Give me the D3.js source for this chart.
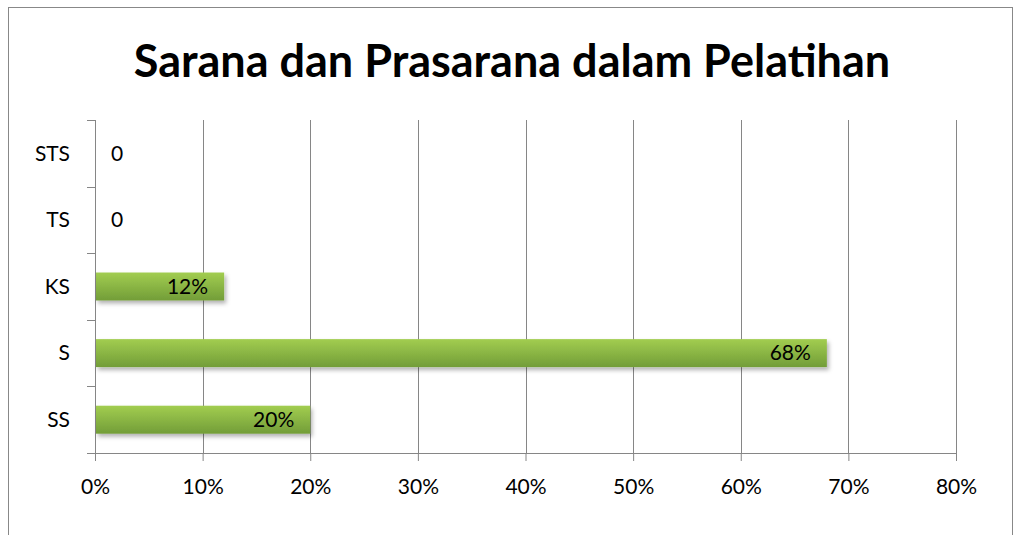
<!DOCTYPE html>
<html>
<head>
<meta charset="utf-8">
<script src="https://cdn.jsdelivr.net/npm/d3@7"></script>
<style>
  body { margin: 0; background: #fff; }
  text { font-family: Lato, "Open Sans", sans-serif; }
</style>
</head>
<body>
<div id="chart"></div>
<script>
// chart data
var categories = ["STS", "TS", "KS", "S", "SS"];
var values = [0, 0, 0.12, 0.68, 0.20];
var valueLabels = ["0", "0", "12%", "68%", "20%"];
var xTicks = [0, 0.1, 0.2, 0.3, 0.4, 0.5, 0.6, 0.7, 0.8];
var title = "Sarana dan Prasarana dalam Pelatihan";

var width = 1015, height = 535;
var margin = { top: 120, right: 59, bottom: 82, left: 95 };
var plotW = width - margin.left - margin.right;
var plotH = height - margin.top - margin.bottom;

var svg = d3.select("#chart").append("svg")
  .attr("width", width)
  .attr("height", height);

var defs = svg.append("defs");
var grad = defs.append("linearGradient")
  .attr("id", "barGrad")
  .attr("x1", 0).attr("y1", 0).attr("x2", 0).attr("y2", 1);
grad.append("stop").attr("offset", "0%").attr("stop-color", "#a2cd50");
grad.append("stop").attr("offset", "100%").attr("stop-color", "#729d38");

var shadow = defs.append("filter").attr("id", "shadow")
  .attr("x", "-5%").attr("y", "-20%").attr("width", "115%").attr("height", "160%");
shadow.append("feDropShadow")
  .attr("dx", 2).attr("dy", 3).attr("stdDeviation", 2)
  .attr("flood-color", "#000").attr("flood-opacity", 0.3);

// outer border
svg.append("rect")
  .attr("x", 8.5).attr("y", 7.5)
  .attr("width", 1004).attr("height", 540)
  .attr("fill", "none").attr("stroke", "#888").attr("stroke-width", 1);

svg.append("text")
  .attr("x", 512).attr("y", 77)
  .attr("text-anchor", "middle")
  .style("font-size", "45px")
  .style("font-weight", "bold")
  .attr("fill", "#000")
  .text(title);

var g = svg.append("g")
  .attr("transform", "translate(" + margin.left + "," + margin.top + ")");

var x = d3.scaleLinear().domain([0, 0.8]).range([0, plotW]);
var y = d3.scaleBand().domain(categories).range([0, plotH]).paddingInner(0.58).paddingOuter(0.29);

// vertical gridlines
g.selectAll(".grid").data(xTicks.slice(1)).enter().append("line")
  .attr("class", "grid")
  .attr("x1", function (d) { return Math.round(x(d)) + 0.5; })
  .attr("x2", function (d) { return Math.round(x(d)) + 0.5; })
  .attr("y1", 0).attr("y2", plotH)
  .attr("stroke", "#868686");

// x axis
var xAxis = g.append("g")
  .attr("transform", "translate(0," + plotH + ")")
  .call(d3.axisBottom(x).tickValues(xTicks).tickFormat(d3.format(".0%")).tickSize(8).tickSizeOuter(0).tickPadding(18));
xAxis.select(".domain").attr("stroke", "#868686");
xAxis.selectAll(".tick line").attr("stroke", "#868686");
xAxis.selectAll("text").style("font-size", "21px").attr("fill", "#000")
  .style("font-family", "Lato, 'Open Sans', sans-serif");

// y axis with ticks at band boundaries
var yAxisG = g.append("g");
yAxisG.append("line")
  .attr("x1", 0.5).attr("x2", 0.5).attr("y1", 0).attr("y2", plotH + 8)
  .attr("stroke", "#868686");
var step = plotH / categories.length;
yAxisG.selectAll(".ytick").data(d3.range(categories.length + 1)).enter().append("line")
  .attr("x1", -8).attr("x2", 0)
  .attr("y1", function (d) { return Math.round(d * step) + 0.5; })
  .attr("y2", function (d) { return Math.round(d * step) + 0.5; })
  .attr("stroke", "#868686");
yAxisG.selectAll(".ylab").data(categories).enter().append("text")
  .attr("x", -25)
  .attr("y", function (d) { return y(d) + y.bandwidth() / 2; })
  .attr("dy", "0.35em")
  .attr("text-anchor", "end")
  .style("font-size", "21px")
  .text(function (d) { return d; });

// bars
var bars = g.selectAll(".bar").data(categories).enter().append("g");
bars.filter(function (d, i) { return values[i] > 0; }).append("rect")
  .attr("x", 1)
  .attr("y", function (d) { return y(d); })
  .attr("width", function (d) { return x(values[categories.indexOf(d)]) - 1; })
  .attr("height", y.bandwidth())
  .attr("fill", "url(#barGrad)")
  .attr("filter", "url(#shadow)");

bars.append("text")
  .attr("x", function (d, i) { return values[i] > 0 ? x(values[i]) - 16 : 16; })
  .attr("y", function (d) { return y(d) + y.bandwidth() / 2; })
  .attr("dy", "0.35em")
  .attr("text-anchor", function (d, i) { return values[i] > 0 ? "end" : "start"; })
  .style("font-size", "21px")
  .text(function (d, i) { return valueLabels[i]; });
</script>
</body>
</html>
